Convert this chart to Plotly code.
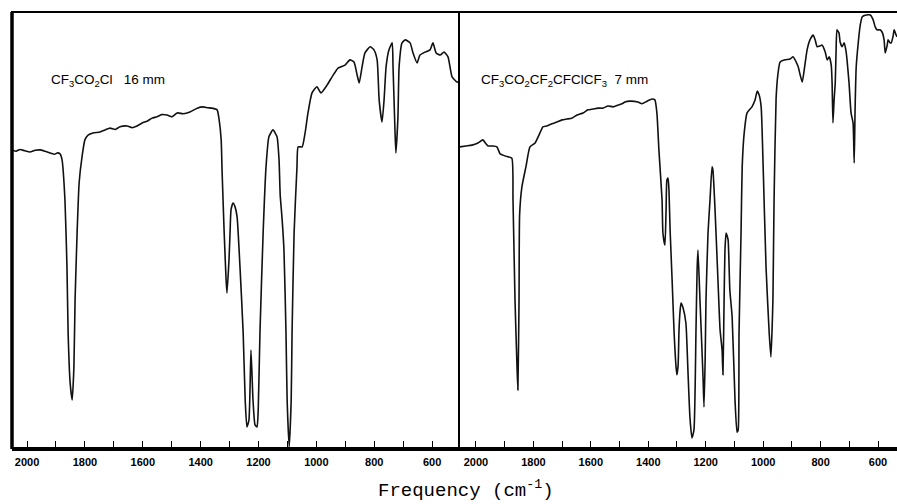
import plotly.graph_objects as go

# ---------------- data (wavenumber cm-1, transmittance %) ----------------
left_wn = [2052, 2038, 2024, 2008, 1990, 1972, 1955, 1938, 1920, 1905, 1896, 1886, 1879, 1869, 1862,
           1858, 1851, 1844, 1838, 1834, 1827, 1820, 1810, 1800, 1789, 1772, 1748, 1730, 1713, 1695,
           1679, 1654, 1637, 1620, 1602, 1585, 1568, 1551, 1535, 1516, 1499, 1481, 1460, 1437, 1412,
           1392, 1375, 1361, 1343, 1336, 1329, 1326, 1319, 1312, 1309, 1302, 1298, 1295, 1288, 1281,
           1274, 1264, 1253, 1246, 1240, 1233, 1226, 1219, 1212, 1205, 1201, 1195, 1184, 1174, 1164,
           1150, 1136, 1129, 1125, 1119, 1112, 1105, 1101, 1094, 1087, 1084, 1077, 1067, 1063, 1049,
           1039, 1029, 1015, 998, 984, 963, 942, 925, 901, 884, 870, 859, 852, 842, 832, 814, 801,
           790, 783, 773, 766, 759, 749, 738, 735, 728, 725, 718, 714, 704, 693, 676, 666, 652, 642,
           624, 607, 597, 586, 572, 559, 545, 531, 514, 507]
left_T = [68.3, 68.0, 68.4, 68.1, 67.8, 68.2, 68.3, 68.0, 67.6, 67.3, 67.6, 67.4, 66.0, 56.8, 41.4,
          26.2, 14.7, 10.8, 18.4, 33.8, 49.2, 60.7, 66.7, 70.6, 71.7, 72.2, 72.4, 72.9, 73.3, 73.0,
          73.6, 73.8, 73.4, 73.8, 74.5, 74.9, 75.6, 75.9, 76.4, 76.3, 75.9, 76.8, 76.6, 77.0, 77.9,
          78.2, 78.0, 77.9, 77.5, 75.2, 70.6, 63.7, 49.9, 38.4, 35.4, 43.0, 49.9, 54.5, 56.1, 55.2,
          52.9, 41.4, 26.2, 10.8, 4.6, 6.2, 22.3, 10.8, 5.1, 4.6, 8.5, 26.2, 49.2, 64.4, 71.3,
          72.9, 71.3, 66.0, 57.9, 52.9, 45.3, 26.2, 10.8, 0.0, 10.8, 26.2, 49.2, 64.4, 69.0, 69.0,
          72.2, 76.8, 81.4, 82.8, 81.4, 83.2, 85.5, 87.1, 87.8, 89.0, 88.5, 85.5, 83.7, 87.4, 90.6,
          92.0, 91.3, 89.0, 79.8, 74.7, 79.8, 87.4, 91.3, 92.9, 87.4, 72.2, 67.6, 75.9, 87.4, 92.9,
          93.6, 92.9, 90.6, 88.3, 90.1, 90.8, 91.3, 92.9, 90.6, 90.1, 90.8, 89.7, 85.1, 83.9, 83.9]

right_wn = [2056, 2035, 2014, 1993, 1976, 1965, 1958, 1941, 1927, 1916, 1906, 1889, 1875, 1871, 1864,
            1857, 1854, 1850, 1848, 1840, 1826, 1812, 1794, 1777, 1767, 1753, 1735, 1718, 1700, 1683,
            1666, 1648, 1627, 1610, 1592, 1575, 1558, 1540, 1523, 1505, 1491, 1481, 1464, 1436, 1422,
            1404, 1387, 1377, 1370, 1363, 1352, 1349, 1342, 1338, 1335, 1331, 1328, 1324, 1317, 1310,
            1303, 1300, 1296, 1293, 1289, 1286, 1279, 1269, 1262, 1255, 1248, 1241, 1234, 1230, 1227,
            1220, 1213, 1209, 1206, 1202, 1199, 1192, 1185, 1178, 1175, 1168, 1157, 1150, 1143, 1140,
            1136, 1133, 1129, 1126, 1122, 1116, 1108, 1098, 1091, 1087, 1084, 1077, 1073, 1066, 1056,
            1039, 1028, 1021, 1014, 1007, 1000, 990, 979, 973, 969, 966, 962, 955, 949, 941, 924,
            906, 896, 885, 878, 871, 864, 857, 847, 837, 826, 819, 812, 802, 795, 784, 777, 770,
            763, 760, 757, 753, 749, 746, 743, 736, 732, 725, 718, 711, 708, 701, 694, 687, 683,
            680, 676, 669, 662, 655, 641, 627, 617, 610, 603, 593, 586, 579, 575, 568, 565, 558,
            554, 547, 544, 537, 534]
right_T = [69.0, 69.2, 69.4, 69.9, 70.6, 69.7, 69.2, 69.2, 69.0, 67.4, 67.1, 66.7, 66.4, 56.8, 33.8,
           18.4, 13.1, 33.8, 53.3, 59.8, 64.4, 69.0, 69.9, 72.2, 73.6, 73.8, 74.3, 74.7, 75.2, 75.4,
           75.6, 76.3, 76.8, 77.5, 77.7, 77.9, 77.9, 78.4, 78.2, 78.6, 78.9, 79.3, 79.5, 79.3, 78.9,
           79.5, 80.0, 79.8, 76.8, 68.3, 56.8, 49.2, 46.4, 54.5, 61.4, 61.8, 59.1, 49.9, 38.4, 26.2,
           18.2, 16.6, 18.9, 26.9, 31.5, 33.1, 32.0, 28.5, 17.7, 6.9, 2.1, 3.9, 26.2, 40.7, 45.3,
           33.8, 22.3, 15.4, 9.2, 20.0, 33.8, 49.2, 56.8, 64.4, 63.7, 55.2, 37.7, 26.9, 22.3, 16.6,
           33.8, 45.3, 49.2, 48.7, 47.6, 36.1, 29.9, 10.8, 3.4, 3.9, 26.2, 49.2, 64.4, 72.2, 76.8,
           78.2, 79.8, 81.8, 80.9, 78.2, 64.4, 41.4, 26.2, 20.7, 26.9, 33.8, 56.8, 80.0, 85.5, 88.5, 89.0,
           89.2, 89.7, 88.5, 87.4, 85.5, 83.9, 86.7, 91.3, 93.6, 94.7, 93.6, 92.0, 92.2, 92.4, 90.8, 89.0, 89.7,
           87.8, 83.7, 74.5, 79.8, 83.7, 91.3, 95.9, 95.2, 93.1, 92.0, 92.9, 90.8, 89.0, 83.7, 76.8, 74.5,
           65.3, 77.5, 87.4, 92.9, 97.0, 98.9, 99.3, 99.3, 98.2, 96.6, 95.9, 95.9, 95.4, 93.6, 90.6, 92.4, 93.6, 92.9,
           92.9, 94.7, 95.9, 94.7, 94.3]

tick_vals = [2000, 1800, 1600, 1400, 1200, 1000, 800, 600]
tick_text = ["2000", "1800", "1600", "1400", "1200", "1000", "800", "600"]

left_label = "CF<sub>3</sub>CO<sub>2</sub>Cl   16 mm"
right_label = "CF<sub>3</sub>CO<sub>2</sub>CF<sub>2</sub>CFClCF<sub>3</sub>  7 mm"
x_title = "Frequency (cm<sup>-1</sup>)"

# ---------------- figure ----------------
W, H = 897, 504
px = lambda v: v / W
py = lambda v: (H - v) / H

x1_dom = [px(12), px(459)]
x2_dom = [px(459), 1.0]
y_dom = [py(447), py(12)]

fig = go.Figure()
line_style = dict(color="#111111", width=1.6, shape="spline", smoothing=0.5)
fig.add_trace(go.Scatter(x=left_wn, y=left_T, mode="lines", line=line_style,
                         xaxis="x", yaxis="y", showlegend=False, hoverinfo="skip"))
fig.add_trace(go.Scatter(x=right_wn, y=right_T, mode="lines", line=line_style,
                         xaxis="x2", yaxis="y2", showlegend=False, hoverinfo="skip"))

tickfont = dict(family="Liberation Sans, Arial, sans-serif", size=11, color="black", weight="bold")
common_x = dict(tickmode="array", tickvals=tick_vals, ticktext=tick_text,
                ticks="inside", ticklen=6, tickwidth=1, tickcolor="black",
                minor=dict(tickmode="linear", tick0=0, dtick=100, ticks="inside",
                           ticklen=6, tickwidth=1, tickcolor="black", showgrid=False),
                showgrid=False, zeroline=False, showline=True, linecolor="black",
                linewidth=3.5, tickfont=tickfont, ticklabelstandoff=2)

fig.update_layout(
    width=W, height=H,
    margin=dict(l=0, r=0, t=0, b=0, pad=0),
    paper_bgcolor="white", plot_bgcolor="white",
    xaxis=dict(domain=x1_dom, range=[2052, 507], anchor="y", **common_x),
    xaxis2=dict(domain=x2_dom, range=[2059, 534], anchor="y2", **common_x),
    yaxis=dict(domain=y_dom, range=[0, 100], visible=False, anchor="x"),
    yaxis2=dict(domain=y_dom, range=[0, 100], visible=False, anchor="x2"),
)

# frame lines
fig.add_shape(type="line", xref="paper", yref="paper", x0=px(11), x1=1.0, y0=py(12), y1=py(12),
              line=dict(color="black", width=1.8))
fig.add_shape(type="line", xref="paper", yref="paper", x0=px(12), x1=px(12), y0=py(449), y1=py(12),
              line=dict(color="black", width=3.5))
fig.add_shape(type="line", xref="paper", yref="paper", x0=px(459), x1=px(459), y0=py(449), y1=py(12),
              line=dict(color="black", width=2))

# labels
fig.add_annotation(xref="paper", yref="paper", x=px(49), y=py(81), xanchor="left", yanchor="middle",
                   text=left_label, showarrow=False,
                   font=dict(family="Liberation Sans, Arial, sans-serif", size=13.5, color="black"))
fig.add_annotation(xref="paper", yref="paper", x=px(479), y=py(80), xanchor="left", yanchor="middle",
                   text=right_label, showarrow=False,
                   font=dict(family="Liberation Sans, Arial, sans-serif", size=13.5, color="black"))
fig.add_annotation(xref="paper", yref="paper", x=px(466), y=py(489), xanchor="center", yanchor="middle",
                   text=x_title, showarrow=False,
                   font=dict(family="Liberation Mono, Courier New, monospace", size=19, color="black"))

fig.write_html("out.html", config={"displayModeBar": False, "staticPlot": True},
               post_script="document.body.style.margin='0';document.body.style.overflow='hidden';")
